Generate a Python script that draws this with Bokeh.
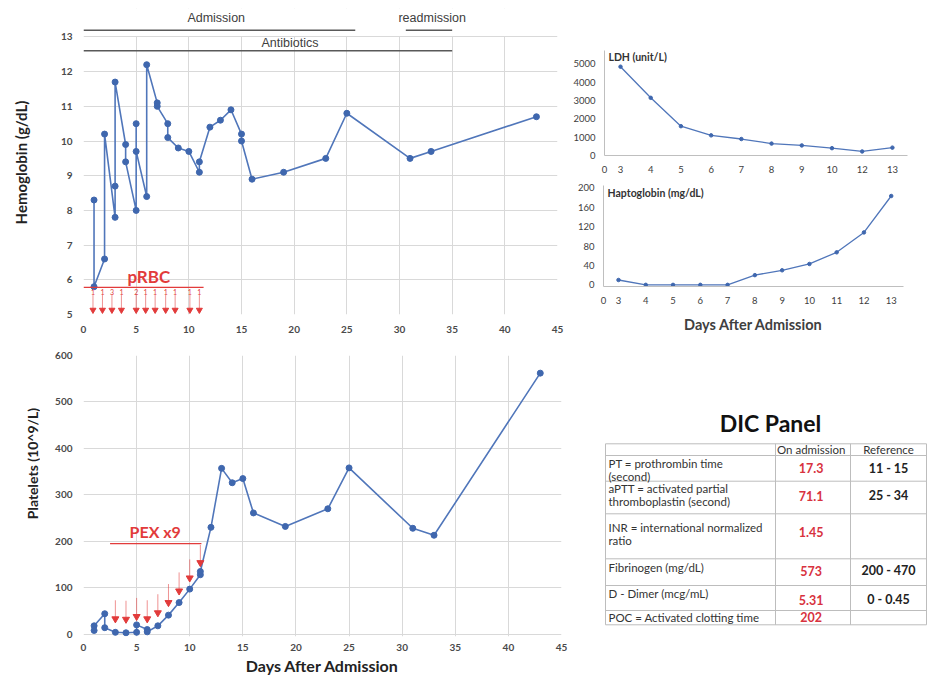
import math
from bokeh.plotting import figure
from bokeh.models import Range1d, FixedTicker, BoxAnnotation
from bokeh.layouts import row, column
from bokeh.embed import file_html
from bokeh.resources import INLINE
from bokeh.core.properties import value

# ---------------- data ----------------
hb_days = [1, 1, 2, 2, 3, 3, 3, 4, 4, 5, 5, 5, 6, 6, 7, 7, 8, 8, 9, 10, 11, 11, 12, 13, 14, 15, 15, 16, 19, 23, 25, 31, 33, 43]
hb_vals = [8.3, 5.8, 6.6, 10.2, 7.8, 8.7, 11.7, 9.9, 9.4, 8.0, 10.5, 9.7, 8.4, 12.2, 11.1, 11.0, 10.5, 10.1, 9.8, 9.7, 9.1, 9.4, 10.4, 10.6, 10.9, 10.2, 10.0, 8.9, 9.1, 9.5, 10.8, 9.5, 9.7, 10.7]

plt_days = [1, 1, 2, 2, 3, 4, 5, 5, 6, 6, 7, 8, 9, 10, 11, 11, 12, 13, 14, 15, 16, 19, 23, 25, 31, 33, 43]
plt_vals = [8, 18, 44, 14, 4, 3, 4, 20, 10, 5, 18, 41, 68, 97, 128, 135, 230, 357, 326, 335, 261, 232, 270, 358, 228, 213, 562]

rbc_days = [0.9, 1.8, 2.7, 3.6, 5.0, 5.9, 6.8, 7.8, 8.7, 10.1, 11.0]
rbc_units = ["1", "1", "3", "1", "2", "1", "1", "1", "1", "1", "1"]

pex_days = [3, 4, 5, 6, 7, 8, 9, 10, 11]
pex_tip = [28, 27, 33, 28, 41, 63, 88, 116, 149]
pex_top = [73, 72, 78, 73, 86, 108, 133, 161, 192]

period_names = ["Admission", "Antibiotics", "readmission"]
period_start = [0, 0, 30.6]
period_end = [25.8, 35, 35]

ldh_days = ["3", "4", "5", "6", "7", "8", "9", "10", "12", "13"]
ldh_vals = [4850, 3150, 1600, 1100, 900, 650, 550, 400, 220, 430]

hap_days = ["3", "4", "5", "6", "7", "8", "9", "10", "11", "12", "13"]
hap_vals = [10, 0, 0, 0, 0, 20, 30, 43, 67, 108, 183]

dic_tests = ["PT = prothrombin time\n(second)",
             "aPTT = activated partial\nthromboplastin (second)",
             "INR = international normalized\nratio",
             "Fibrinogen (mg/dL)",
             "D - Dimer (mcg/mL)",
             "POC = Activated clotting time"]
dic_admission = ["17.3", "71.1", "1.45", "573", "5.31", "202"]
dic_reference = ["11 - 15", "25 - 34", "", "200 - 470", "0 - 0.45", ""]

# ---------------- styles ----------------
FONT = "Lato"
BLUE = "#5076BA"
BLUE_DK = "#3F67AE"
RED = "#E23B3B"
GRID = "#D9D9D9"
TICK = "#4A4A4A"


def no_align(p):
    if "frame_align" in p.properties():
        p.frame_align = False


def style_main(p):
    p.outline_line_color = None
    for ax in (p.xaxis, p.yaxis):
        ax.axis_line_color = None
        ax.major_tick_line_color = None
        ax.minor_tick_line_color = None
        ax.major_label_text_font = FONT
        ax.major_label_text_font_style = "bold"
        ax.major_label_text_font_size = "10px"
        ax.major_label_text_color = TICK
    p.xgrid.grid_line_color = GRID
    p.ygrid.grid_line_color = GRID
    p.xaxis.ticker = FixedTicker(ticks=list(range(0, 46, 5)))
    no_align(p)


def label_strip(height, x, y, text, size):
    s = figure(width=40, height=height, x_range=Range1d(0, 40), y_range=Range1d(height, 0),
               output_backend="svg", toolbar_location=None, x_axis_type=None, y_axis_type=None,
               min_border_left=0, min_border_right=0, min_border_top=0, min_border_bottom=0)
    s.outline_line_color = None
    no_align(s)
    s.text(x=[x], y=[y], text=[text], angle=math.pi / 2, text_font=value(FONT),
           text_font_style="bold", text_font_size=size, text_color="#222222",
           text_align="center", text_baseline="middle")
    return s


# ---------------- hemoglobin ----------------
p1 = figure(width=530, height=335, x_range=Range1d(0, 45), y_range=Range1d(5, 13.82),
            output_backend="svg", toolbar_location=None,
            min_border_left=43, min_border_right=13, min_border_top=8, min_border_bottom=20)
style_main(p1)
p1.yaxis.ticker = FixedTicker(ticks=list(range(5, 14)))
p1.add_layout(BoxAnnotation(bottom=13.03, fill_color="white", fill_alpha=1.0,
                            line_color=None, level="underlay"))

p1.line(hb_days, hb_vals, line_color=BLUE, line_width=1.6)
p1.scatter(hb_days, hb_vals, size=6, fill_color=BLUE_DK, line_color=BLUE_DK)

# periods above
p1.segment(x0=period_start, y0=[13.19, 12.6, 13.19], x1=period_end, y1=[13.19, 12.6, 13.19],
           line_color="#595959", line_width=1.5)
p1.text(x=[12.6, 19.6, 33.1], y=[13.55, 12.84, 13.55], text=period_names,
        text_font=value("Liberation Sans"), text_font_size="12.5px", text_color="#404040",
        text_align="center", text_baseline="middle")

# pRBC annotation
p1.segment(x0=[0], y0=[5.78], x1=[11.4], y1=[5.78], line_color=RED, line_width=1.2)
p1.text(x=[6.2], y=[6.1], text=["pRBC"], text_font=value(FONT), text_font_style="bold",
        text_font_size="17px", text_color=RED, text_align="center", text_baseline="middle")
p1.segment(x0=rbc_days, y0=[5.56] * len(rbc_days), x1=rbc_days, y1=[5.16] * len(rbc_days),
           line_color=RED, line_width=0.8, line_alpha=0.7)
p1.text(x=rbc_days, y=[5.65] * len(rbc_days), text=rbc_units, text_font=value(FONT),
        text_font_size="7px", text_color=RED, text_align="center", text_baseline="middle")
p1.scatter(rbc_days, [5.13] * len(rbc_days), marker="inverted_triangle", size=6,
           fill_color=RED, line_color=RED)

# ---------------- platelets ----------------
p2 = figure(width=530, height=344, x_range=Range1d(0, 45), y_range=Range1d(-5, 600),
            output_backend="svg", toolbar_location=None,
            min_border_left=43, min_border_right=9, min_border_top=20, min_border_bottom=43)
style_main(p2)
p2.yaxis.ticker = FixedTicker(ticks=list(range(0, 601, 100)))
p2.xaxis.major_label_standoff = 1
p2.xaxis.axis_label = "Days After Admission"
p2.xaxis.axis_label_standoff = 2
p2.xaxis.axis_label_text_font = FONT
p2.xaxis.axis_label_text_font_style = "bold"
p2.xaxis.axis_label_text_font_size = "16px"
p2.xaxis.axis_label_text_color = "#222222"

p2.line(plt_days, plt_vals, line_color=BLUE, line_width=1.6)
p2.scatter(plt_days, plt_vals, size=6, fill_color=BLUE_DK, line_color=BLUE_DK)

p2.segment(x0=[2.5], y0=[195], x1=[11.1], y1=[195], line_color=RED, line_width=1.3)
p2.text(x=[6.75], y=[221], text=["PEX x9"], text_font=value(FONT), text_font_style="bold",
        text_font_size="16px", text_color=RED, text_align="center", text_baseline="middle")
p2.segment(x0=pex_days, y0=pex_top, x1=pex_days, y1=[t + 8 for t in pex_tip],
           line_color=RED, line_width=0.8, line_alpha=0.7)
p2.scatter(pex_days, [t + 5 for t in pex_tip], marker="inverted_triangle", size=7,
           fill_color=RED, line_color=RED)

lab1 = label_strip(335, 20.5, 162, "Hemoglobin (g/dL)", "15px")
lab2 = label_strip(344, 31.5, 128, "Platelets (10^9/L)", "14px")


# ---------------- small panels ----------------
def style_small(p):
    p.outline_line_color = None
    p.xgrid.grid_line_color = None
    p.ygrid.grid_line_color = None
    for ax in (p.xaxis, p.yaxis):
        ax.axis_line_color = "#BFBFBF"
        ax.major_tick_line_color = None
        ax.minor_tick_line_color = None
        ax.major_label_text_font = FONT
        ax.major_label_text_font_size = "9.5px"
        ax.major_label_text_color = "#404040"
        ax.major_label_standoff = 3
    p.xaxis.major_label_standoff = 4
    no_align(p)


ldh_pos = list(range(len(ldh_days)))
p3 = figure(width=357, height=175, x_range=Range1d(-0.53, 9.5), y_range=Range1d(0, 5734),
            output_backend="svg", toolbar_location=None,
            min_border_left=33, min_border_right=20, min_border_top=50, min_border_bottom=18)
style_small(p3)
p3.xaxis.ticker = FixedTicker(ticks=[-0.53] + ldh_pos)
p3.xaxis.major_label_overrides = dict([(-0.53, "0")] + [(i, d) for i, d in zip(ldh_pos, ldh_days)])
p3.yaxis.ticker = FixedTicker(ticks=list(range(0, 5001, 1000)))
p3.line(ldh_pos, ldh_vals, line_color=BLUE, line_width=1.3)
p3.scatter(ldh_pos, ldh_vals, size=3.5, fill_color=BLUE_DK, line_color=BLUE_DK)
p3.text(x=[-0.4], y=[5375], text=["LDH (unit/L)"], text_font=value(FONT), text_font_style="bold",
        text_font_size="10.5px", text_color="#333333", text_align="left", text_baseline="middle")

hap_pos = list(range(len(hap_days)))
p4 = figure(width=357, height=160, x_range=Range1d(-0.55, 10.45), y_range=Range1d(-3.4, 204.6),
            output_backend="svg", toolbar_location=None,
            min_border_left=33, min_border_right=24, min_border_top=10, min_border_bottom=46)
style_small(p4)
p4.xaxis.ticker = FixedTicker(ticks=[-0.55] + hap_pos)
p4.xaxis.major_label_overrides = dict([(-0.55, "0")] + [(i, d) for i, d in zip(hap_pos, hap_days)])
p4.yaxis.ticker = FixedTicker(ticks=list(range(0, 201, 40)))
p4.xaxis.axis_label = "Days After Admission"
p4.xaxis.axis_label_standoff = 9
p4.xaxis.axis_label_text_font = FONT
p4.xaxis.axis_label_text_font_style = "bold"
p4.xaxis.axis_label_text_font_size = "14.5px"
p4.xaxis.axis_label_text_color = "#404040"
p4.line(hap_pos, hap_vals, line_color=BLUE, line_width=1.3)
p4.scatter(hap_pos, hap_vals, size=3.5, fill_color=BLUE_DK, line_color=BLUE_DK)
p4.text(x=[-0.4], y=[188.6], text=["Haptoglobin (mg/dL)"], text_font=value(FONT),
        text_font_style="bold", text_font_size="10.5px", text_color="#333333",
        text_align="left", text_baseline="middle")

# ---------------- DIC panel (table) ----------------
p5 = figure(width=357, height=344, x_range=Range1d(0, 357), y_range=Range1d(344, 0),
            output_backend="svg", toolbar_location=None, x_axis_type=None, y_axis_type=None,
            min_border_left=0, min_border_right=0, min_border_top=0, min_border_bottom=0)
p5.outline_line_color = None
no_align(p5)

row_y = [108.3, 120, 145.7, 178.3, 223.3, 250, 275, 289.3]
col_x = [35, 205, 280, 356]
p5.segment(x0=[col_x[0]] * len(row_y), y0=row_y, x1=[col_x[-1]] * len(row_y), y1=row_y,
           line_color="#BDBDBD", line_width=1)
p5.segment(x0=col_x, y0=[row_y[0]] * len(col_x), x1=col_x, y1=[row_y[-1]] * len(col_x),
           line_color="#BDBDBD", line_width=1)

p5.text(x=[200], y=[87], text=["DIC Panel"], text_font=value(FONT), text_font_style="bold",
        text_font_size="23px", text_color="#111111", text_align="center", text_baseline="middle")
p5.text(x=[240.7, 318], y=[114, 114], text=["On admission", "Reference"], text_font=value(FONT),
        text_font_size="11.5px", text_color="#333333", text_align="center", text_baseline="middle")

label_first_y = [128, 153, 191.7, 231.7, 258, 281.7]
lx, ly, lt = [], [], []
for t, y0 in zip(dic_tests, label_first_y):
    for k, line in enumerate(t.split("\n")):
        lx.append(38)
        ly.append(y0 + k * 12.8)
        lt.append(line)
p5.text(x=lx, y=ly, text=lt, text_font=value(FONT), text_font_size="11.5px",
        text_color="#333333", text_align="left", text_baseline="middle")

val_y = [132.7, 160, 196.7, 235, 264, 281.7]
p5.text(x=[240.7] * len(dic_admission), y=val_y, text=dic_admission, text_font=value(FONT),
        text_font_style="bold", text_font_size="12.5px", text_color="#D8323E",
        text_align="center", text_baseline="middle")
p5.text(x=[318] * len(dic_reference), y=val_y, text=dic_reference, text_font=value(FONT),
        text_font_style="bold", text_font_size="12.5px", text_color="#222222",
        text_align="center", text_baseline="middle")

layout = row(column(row(lab1, p1), row(lab2, p2)), column(p3, p4, p5))
open("out.html", "w").write(file_html(layout, INLINE))
